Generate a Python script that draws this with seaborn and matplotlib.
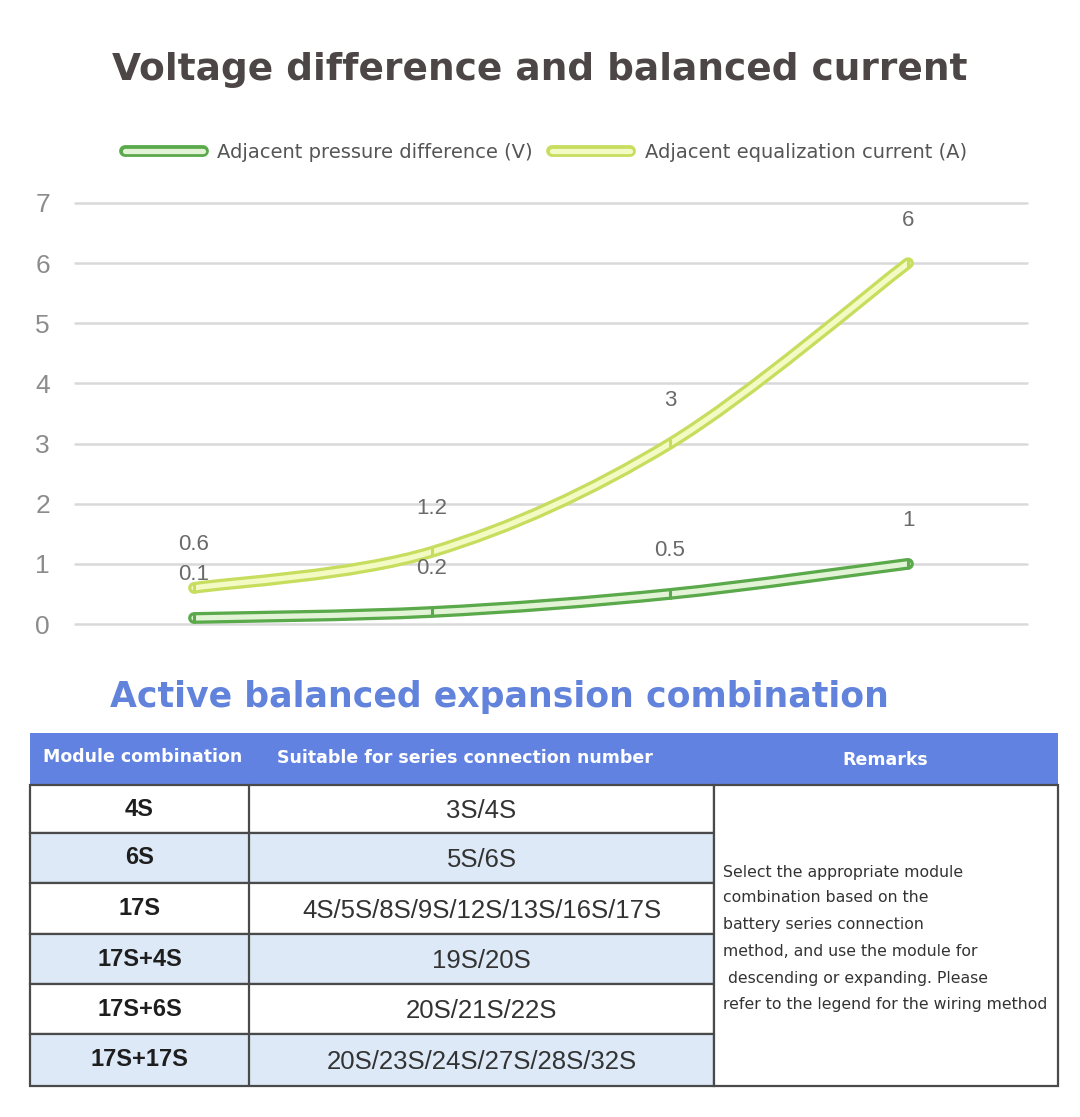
import numpy as np
import pandas as pd
import matplotlib
matplotlib.use("Agg")
import matplotlib.pyplot as plt
import seaborn as sns
from matplotlib.path import Path
from matplotlib.patches import PathPatch, Rectangle
from matplotlib.lines import Line2D
import matplotlib.patheffects as pe
from matplotlib import font_manager

# ---------------- data ----------------
categories = ["A", "B", "C", "D"]
pressure_diff = [0.1, 0.2, 0.5, 1]          # Adjacent pressure difference (V)
equal_current = [0.6, 1.2, 3, 6]            # Adjacent equalization current (A)
y_ticks = [0, 1, 2, 3, 4, 5, 6, 7]
series_names = ["Adjacent pressure difference (V)", "Adjacent equalization current (A)"]

title_top = "Voltage difference and balanced current"
title_table = "Active balanced expansion combination"
table_headers = ["Module combination", "Suitable for series connection number", "Remarks"]
modules = ["4S", "6S", "17S", "17S+4S", "17S+6S", "17S+17S"]
series_numbers = ["3S/4S", "5S/6S", "4S/5S/8S/9S/12S/13S/16S/17S", "19S/20S",
                  "20S/21S/22S", "20S/23S/24S/27S/28S/32S"]
remarks_lines = ["Select the appropriate module",
                 "combination based on the",
                 "battery series connection",
                 "method, and use the module for",
                 " descending or expanding. Please",
                 "refer to the legend for the wiring method"]

# ---------------- style ----------------
sns.set_theme(style="white")
plt.rcParams['font.family'] = ['DejaVu Sans']

avail = {f.name for f in font_manager.fontManager.ttflist}
narrow = 'Liberation Sans Narrow' if 'Liberation Sans Narrow' in avail else 'Liberation Sans'

W, H = 1080, 1117
fig = plt.figure(figsize=(W / 100, H / 100), dpi=100)

green_out, green_in = "#5aa94a", "#e2f3d6"
yel_out, yel_in = "#c6dd5e", "#f4fac4"

# ---------------- line chart ----------------
ax = fig.add_axes([75 / W, 1 - 624 / H, (1027 - 75) / W, (624 - 203) / H])
ax.set_xlim(-0.5, 3.5)
ax.set_ylim(0, 7)
ax.set_yticks(y_ticks)
ax.set_xticks([])
for s in ax.spines.values():
    s.set_visible(False)
ax.grid(axis="y", color="#d9d9d9", linewidth=1.8)
ax.set_axisbelow(True)
ax.tick_params(axis="y", length=0, pad=18, labelsize=19, labelcolor="#8c8c8c")
for lab in ax.get_yticklabels():
    lab.set_fontfamily("Liberation Sans")
for gl in ax.get_ygridlines():
    gl.set_clip_on(False)


def smooth_path(xs, ys):
    pts = np.column_stack([xs, ys]).astype(float)
    n = len(pts)
    verts = [pts[0]]
    codes = [Path.MOVETO]
    for i in range(n - 1):
        p0 = pts[i - 1] if i > 0 else pts[i]
        p1 = pts[i]
        p2 = pts[i + 1]
        p3 = pts[i + 2] if i + 2 < n else pts[i + 1]
        c1 = p1 + (p2 - p0) / 6.0
        c2 = p2 - (p3 - p1) / 6.0
        verts += [c1, c2, p2]
        codes += [Path.CURVE4] * 3
    return Path(verts, codes)


xpos = np.arange(len(categories))
for vals, co, ci in [(pressure_diff, green_out, green_in), (equal_current, yel_out, yel_in)]:
    patch = PathPatch(smooth_path(xpos, vals), facecolor="none", edgecolor=ci, lw=3.8,
                      capstyle="round", joinstyle="round", zorder=3,
                      path_effects=[pe.Stroke(linewidth=8.5, foreground=co, capstyle="round"),
                                    pe.Normal()])
    patch.set_clip_on(False)
    ax.add_patch(patch)

df = pd.DataFrame({
    "x": np.concatenate([xpos, xpos]),
    "y": pressure_diff + equal_current,
    "s": [series_names[0]] * 4 + [series_names[1]] * 4,
})
sns.scatterplot(data=df, x="x", y="y", hue="s", palette=[green_out, yel_out],
                marker="|", s=45, linewidth=2.2, legend=False, ax=ax, zorder=4)
ax.set_xlabel("")
ax.set_ylabel("")

for vals in (pressure_diff, equal_current):
    for xi, v in zip(xpos, vals):
        ax.annotate(f"{v:g}", (xi, v), xytext=(0, 31), textcoords="offset points",
                    ha="center", va="center", fontsize=16, color="#6a6a6a",
                    fontfamily="Liberation Sans", annotation_clip=False)

handles = [
    Line2D([], [], color=green_in, lw=3.8, solid_capstyle="round",
           path_effects=[pe.Stroke(linewidth=8.5, foreground=green_out, capstyle="round"), pe.Normal()]),
    Line2D([], [], color=yel_in, lw=3.8, solid_capstyle="round",
           path_effects=[pe.Stroke(linewidth=8.5, foreground=yel_out, capstyle="round"), pe.Normal()]),
]
leg = fig.legend(handles, series_names, loc="center", bbox_to_anchor=(546 / W, 1 - 152 / H),
                 ncol=2, frameon=False, fontsize=14, handlelength=4.0, handletextpad=0.75,
                 columnspacing=1.0, labelcolor="#555555")

# ---------------- overlay for titles + table (pixel coords) ----------------
ov = fig.add_axes([0, 0, 1, 1], zorder=-1)
ov.set_xlim(0, W)
ov.set_ylim(H, 0)
ov.axis("off")

ov.text(540, 70, title_top, ha="center", va="center", fontsize=27, fontweight="bold",
        color="#4d4646")
ov.text(499, 697, title_table, ha="center", va="center", fontsize=25, fontweight="bold",
        color="#6283dc")

cols = [30, 249, 714, 1058]
hdr_top, hdr_bot = 733, 785
rows = [785, 833, 883, 934, 984, 1034, 1086]

ov.add_patch(Rectangle((cols[0], hdr_top), cols[3] - cols[0], hdr_bot - hdr_top,
                       facecolor="#6282e2", edgecolor="none"))
hdr_x = [143, 465, 885]
hdr_y = [757, 758, 760]
for t, x, y in zip(table_headers, hdr_x, hdr_y):
    ov.text(x, y, t, ha="center", va="center", fontsize=12.5, fontweight="bold", color="white")

for i in range(len(modules)):
    y0, y1 = rows[i], rows[i + 1]
    fc = "#dde9f7" if i % 2 == 1 else "white"
    ov.add_patch(Rectangle((cols[0], y0), cols[2] - cols[0], y1 - y0, facecolor=fc,
                           edgecolor="#4a4a4a", lw=1.6))
    ym = (y0 + y1) / 2
    ov.text((cols[0] + cols[1]) / 2, ym, modules[i], ha="center", va="center",
            fontsize=17, fontweight="bold", color="#1e1e1e", fontfamily=narrow)
    ov.text((cols[1] + cols[2]) / 2, ym + 2, series_numbers[i], ha="center", va="center",
            fontsize=18.5, color="#333333", fontfamily=narrow)
ov.plot([cols[1], cols[1]], [rows[0], rows[-1]], color="#4a4a4a", lw=1.6)
ov.add_patch(Rectangle((cols[2], rows[0]), cols[3] - cols[2], rows[-1] - rows[0],
                       facecolor="white", edgecolor="#4a4a4a", lw=1.6))

rem_y = [872, 898, 925, 952, 978, 1005]
for t, y in zip(remarks_lines, rem_y):
    ov.text(723, y, t, ha="left", va="center", fontsize=11.3, color="#333333")

fig.savefig("out.png", dpi=100, facecolor="white")
